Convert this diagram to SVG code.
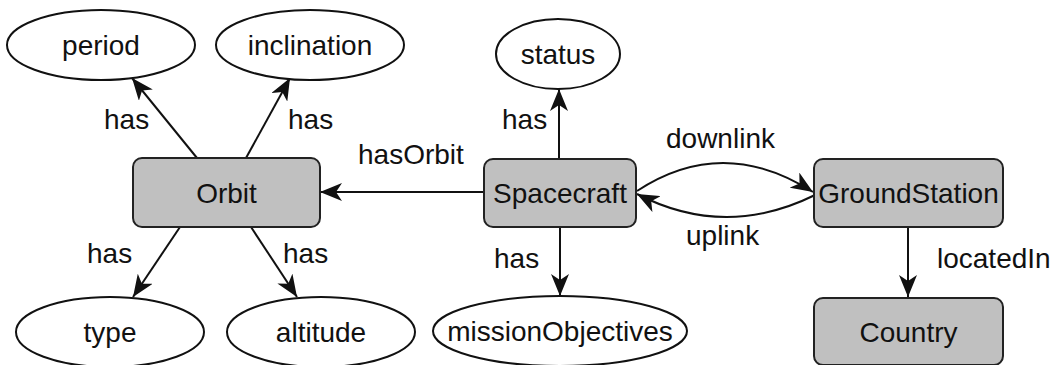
<svg xmlns="http://www.w3.org/2000/svg" width="1057" height="365" viewBox="0 0 1057 365">
  <style>
    text { font-family: "Liberation Sans", Arial, sans-serif; font-size: 28px; fill: #111; }
    .node text { text-anchor: middle; }
    .cls rect { fill: #c0c0c0; stroke: #222; stroke-width: 2; }
    .attr ellipse { fill: #fff; stroke: #111; stroke-width: 2; }
    .edges path { fill: none; stroke: #111; stroke-width: 2; marker-end: url(#arrow); }
    .lbl { text-anchor: start; }
  </style>
  <defs>
    <marker id="arrow" viewBox="0 0 22 18" refX="22" refY="9" markerWidth="22" markerHeight="18" markerUnits="userSpaceOnUse" orient="auto">
      <path d="M0,0 L22,9 L0,18 L6,9 z" fill="#111"/>
    </marker>
  </defs>
  <rect width="1057" height="365" fill="#fff"/>

  <!-- connectors -->
  <g id="edges" class="edges">
    <path d="M197,158 L132,78"/>
    <path d="M246,158 L290,78"/>
    <path d="M180,227 L133,297"/>
    <path d="M251,227 L297,297"/>
    <path d="M484,192 L320,192"/>
    <path d="M559,159 L559,89"/>
    <path d="M560,227 L560,296"/>
    <path d="M637,191 Q723,134.5 813,192"/>
    <path d="M815,195 Q725,239.5 637,194"/>
    <path d="M908,227 L908,297"/>
    <text class="lbl" x="104" y="129">has</text>
    <text class="lbl" x="288" y="129">has</text>
    <text class="lbl" x="87" y="263">has</text>
    <text class="lbl" x="283" y="263">has</text>
    <text class="lbl" x="358" y="164">hasOrbit</text>
    <text class="lbl" x="502" y="129">has</text>
    <text class="lbl" x="494" y="268">has</text>
    <text class="lbl" x="666" y="148">downlink</text>
    <text class="lbl" x="686" y="245">uplink</text>
    <text class="lbl" x="937" y="268">locatedIn</text>
  </g>

  <!-- class nodes -->
  <g id="Orbit" class="node cls">
    <rect x="133" y="158" width="187" height="69" rx="9"/>
    <text x="226.5" y="203">Orbit</text>
  </g>
  <g id="Spacecraft" class="node cls">
    <rect x="484" y="159" width="152" height="68" rx="9"/>
    <text x="560" y="203">Spacecraft</text>
  </g>
  <g id="GroundStation" class="node cls">
    <rect x="814" y="159" width="189" height="68" rx="9"/>
    <text x="908.5" y="203">GroundStation</text>
  </g>
  <g id="Country" class="node cls">
    <rect x="814" y="298" width="189" height="67" rx="9"/>
    <text x="908.5" y="342">Country</text>
  </g>

  <!-- attribute nodes -->
  <g id="period" class="node attr">
    <ellipse cx="101" cy="45" rx="94" ry="35"/>
    <text x="101" y="54.5">period</text>
  </g>
  <g id="inclination" class="node attr">
    <ellipse cx="310" cy="45" rx="94" ry="35"/>
    <text x="310" y="54.5">inclination</text>
  </g>
  <g id="status" class="node attr">
    <ellipse cx="558" cy="54" rx="62" ry="35"/>
    <text x="558" y="63.5">status</text>
  </g>
  <g id="type" class="node attr">
    <ellipse cx="110" cy="332" rx="94" ry="35"/>
    <text x="110" y="341.5">type</text>
  </g>
  <g id="altitude" class="node attr">
    <ellipse cx="321" cy="332" rx="94" ry="35"/>
    <text x="321" y="341.5">altitude</text>
  </g>
  <g id="missionObjectives" class="node attr">
    <ellipse cx="560" cy="331" rx="127" ry="35"/>
    <text x="560" y="341">missionObjectives</text>
  </g>
</svg>
